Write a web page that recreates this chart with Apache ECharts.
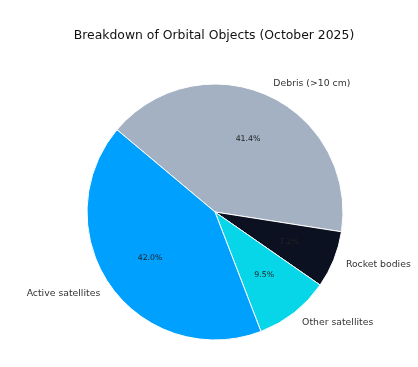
<!DOCTYPE html>
<html><head><meta charset="utf-8">
<script src="https://cdn.jsdelivr.net/npm/echarts@6/dist/echarts.min.js"></script>
<style>html,body{margin:0;padding:0;background:#fff}#c{width:418px;height:367px}</style>
</head><body><div id="c"></div>
<script>
const categories = ["Debris (>10 cm)", "Rocket bodies", "Other satellites", "Active satellites"];
const shares = [41.4, 7.2, 9.5, 42.0];
const colors = ["#a3b1c2", "#0b1120", "#06d6e8", "#00a0ff"];
const titleText = "Breakdown of Orbital Objects (October 2025)";

const R = 128;
const chart = echarts.init(document.getElementById('c'), null, {renderer: 'canvas'});
chart.setOption({
  animation: false,
  title: {
    text: titleText, left: 209, top: 25, textAlign: 'center',
    textStyle: {fontFamily: 'DejaVu Sans', fontWeight: 'normal', fontSize: 12.4, color: '#111'}
  },
  series: [
    {
      type: 'pie', center: [215, 212], radius: [0, R], startAngle: 140, clockwise: true,
      avoidLabelOverlap: false, silent: true,
      data: categories.map((n, i) => ({name: n, value: shares[i], itemStyle: {color: colors[i]}})),
      itemStyle: {borderColor: '#fff', borderWidth: 1},
      label: {show: true, position: 'outside', formatter: '{b}', fontFamily: 'DejaVu Sans', fontSize: 9.3, color: '#333', distanceToLabelLine: 0},
      labelLine: {show: false, length: 13, length2: 0}
    },
    {
      type: 'pie', center: [215, 212], radius: [0, R * 1.2], startAngle: 140, clockwise: true,
      avoidLabelOverlap: false, silent: true,
      data: categories.map((n, i) => ({name: n, value: shares[i]})),
      itemStyle: {color: 'transparent', borderWidth: 0},
      label: {show: true, position: 'inside', formatter: p => p.value.toFixed(1) + '%', fontFamily: 'DejaVu Sans', fontSize: 7.8, color: '#222'},
      labelLine: {show: false}
    }
  ]
});
</script></body></html>
